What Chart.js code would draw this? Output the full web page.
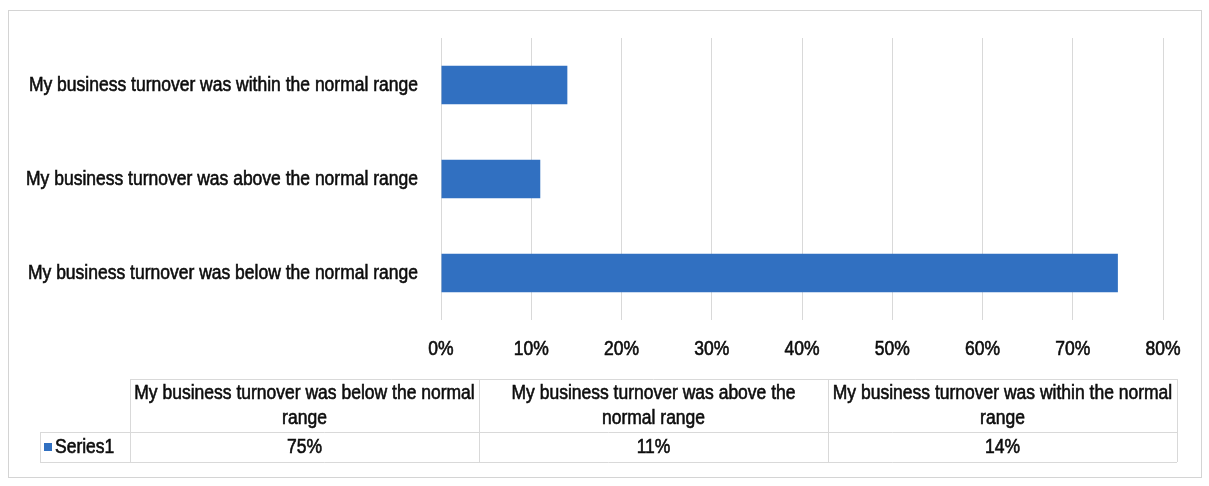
<!DOCTYPE html>
<html lang="en">
<head>
    <meta charset="UTF-8">
    <title>Business Turnover</title>
    <script src="https://cdn.jsdelivr.net/npm/chart.js"></script>
    <style>
        html, body { margin: 0; padding: 0; background: #fff; }
        #wrap { width: 1209px; height: 486px; position: relative; }
    </style>
</head>
<body>
    <div id="wrap"><canvas id="chart"></canvas></div>

    <script>
        // Categories in table order (first one is drawn at the bottom of the bars)
        const categories = [
            'My business turnover was below the normal range',
            'My business turnover was above the normal range',
            'My business turnover was within the normal range'
        ];
        // Header cells of the data table, broken into lines
        const tableHeaders = [
            ['My business turnover was below the normal', 'range'],
            ['My business turnover was above the', 'normal range'],
            ['My business turnover was within the normal', 'range']
        ];
        const seriesName = 'Series1';
        const series1 = [75, 11, 14];
        const xMax = 80;
        const xStep = 10;

        const FONT = '"Liberation Sans", Arial, sans-serif';
        const FONT_SIZE = 20;
        const NARROW = 0.875;   // squeeze Liberation Sans into a narrow face
        const barColor = '#3170c1';
        const textColor = '#0d0d0d';
        const lineColor = '#d9d9d9';

        // narrow text with a light outline so the glyphs read a bit heavier
        function narrowText(ctx, text, x, y, align) {
            ctx.save();
            ctx.translate(x, y);
            ctx.scale(NARROW, 1);
            ctx.textAlign = align;
            ctx.lineWidth = 0.6;
            ctx.strokeStyle = ctx.fillStyle;
            ctx.fillText(text, 0, 0);
            ctx.strokeText(text, 0, 0);
            ctx.restore();
        }

        // frame, axis labels and the data table under the axis
        const tablePlugin = {
            id: 'dataTable',
            beforeDraw(chart) {
                const ctx = chart.ctx;
                ctx.save();
                ctx.fillStyle = '#fff';
                ctx.fillRect(0, 0, chart.width, chart.height);
                ctx.strokeStyle = '#d4d4d4';
                ctx.lineWidth = 1;
                ctx.strokeRect(8.5, 10.5, 1193, 467);
                ctx.restore();
            },
            afterDraw(chart) {
                const ctx = chart.ctx;
                const xs = chart.scales.x, ys = chart.scales.y;
                ctx.save();
                ctx.font = FONT_SIZE + 'px ' + FONT;
                ctx.textBaseline = 'middle';

                // data table grid
                const left = 130, colW = 349, legendLeft = 40;
                const top = 379, mid = 432, bottom = 462;
                const right = left + colW * categories.length;
                ctx.strokeStyle = lineColor;
                ctx.lineWidth = 1;
                ctx.beginPath();
                ctx.moveTo(left, top + 0.5); ctx.lineTo(right, top + 0.5);
                ctx.moveTo(legendLeft, mid + 0.5); ctx.lineTo(right, mid + 0.5);
                ctx.moveTo(legendLeft, bottom + 0.5); ctx.lineTo(right, bottom + 0.5);
                ctx.moveTo(legendLeft + 0.5, mid); ctx.lineTo(legendLeft + 0.5, bottom);
                for (let i = 0; i <= categories.length; i++) {
                    const x = left + colW * i + 0.5;
                    ctx.moveTo(x, top); ctx.lineTo(x, bottom);
                }
                ctx.stroke();

                ctx.fillStyle = textColor;

                // axis labels
                xs.ticks.forEach(t => {
                    narrowText(ctx, t.value + '%', xs.getPixelForValue(t.value), 349, 'center');
                });
                categories.forEach((c, i) => {
                    narrowText(ctx, c, ys.left + ys.width - 23, ys.getPixelForValue(i), 'right');
                });

                tableHeaders.forEach((lines, i) => {
                    const cx = left + colW * i + colW / 2;
                    lines.forEach((ln, j) => narrowText(ctx, ln, cx, 393 + j * 25, 'center'));
                    narrowText(ctx, series1[i] + '%', cx, 447, 'center');
                });

                // legend key
                ctx.fillStyle = barColor;
                ctx.fillRect(44, 443, 8, 8);
                ctx.fillStyle = textColor;
                narrowText(ctx, seriesName, 55, 447, 'left');
                ctx.restore();
            }
        };

        new Chart(document.getElementById('chart'), {
            type: 'bar',
            data: {
                labels: categories,
                datasets: [{
                    label: seriesName,
                    data: series1,
                    backgroundColor: barColor,
                    borderWidth: 0,
                    categoryPercentage: 1,
                    barPercentage: 0.41
                }]
            },
            options: {
                indexAxis: 'y',
                responsive: true,
                maintainAspectRatio: false,
                animation: false,
                layout: { padding: { top: 38, right: 46, left: 0, bottom: 0 } },
                plugins: {
                    legend: { display: false },
                    tooltip: { enabled: false }
                },
                scales: {
                    x: {
                        min: 0,
                        max: xMax,
                        ticks: { stepSize: xStep, display: false },
                        grid: { color: lineColor, drawTicks: false },
                        border: { display: false },
                        afterFit: s => { s.height = 166; }
                    },
                    y: {
                        reverse: true,
                        ticks: { display: false },
                        grid: { display: false, drawTicks: false },
                        border: { display: false },
                        afterFit: s => { s.width = 441; }
                    }
                }
            },
            plugins: [tablePlugin]
        });
    </script>
</body>
</html>
